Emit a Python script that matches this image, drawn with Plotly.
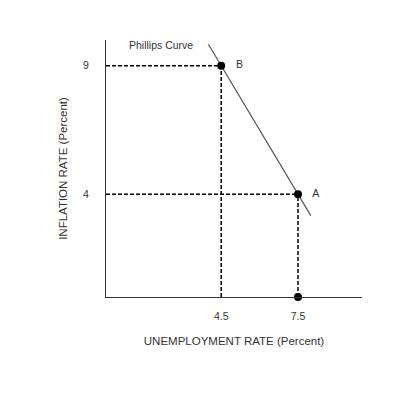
import plotly.graph_objects as go

# Data
point_names = ["B", "A"]
unemployment = [4.5, 7.5]
inflation = [9, 4]
curve_x = [4.0, 8.0]
curve_y = [9.8333, 3.1667]
x_ticks = [4.5, 7.5]
x_tick_labels = ["4.5", "7.5"]
y_ticks = [4, 9]
y_tick_labels = ["4", "9"]

FONT = "Liberation Sans, Arial, sans-serif"
TXT = "#333333"

fig = go.Figure()

# Dashed guide lines
for ux, iy in zip(unemployment, inflation):
    fig.add_trace(go.Scatter(x=[0, ux], y=[iy, iy], mode="lines",
                             line=dict(color="black", width=1.5, dash="4px,2px"),
                             showlegend=False, hoverinfo="skip"))
    fig.add_trace(go.Scatter(x=[ux, ux], y=[0, iy], mode="lines",
                             line=dict(color="black", width=1.5, dash="4px,2px"),
                             showlegend=False, hoverinfo="skip"))

# Phillips curve
fig.add_trace(go.Scatter(x=curve_x, y=curve_y, mode="lines",
                         line=dict(color="#555555", width=1.2),
                         showlegend=False))

# Points
fig.add_trace(go.Scatter(x=unemployment, y=inflation, mode="markers+text",
                         marker=dict(color="black", size=8),
                         text=["   " + n for n in point_names],
                         textposition="middle right",
                         textfont=dict(family=FONT, size=10.5, color=TXT),
                         showlegend=False))
fig.add_trace(go.Scatter(x=[unemployment[1]], y=[0], mode="markers",
                         marker=dict(color="black", size=8),
                         showlegend=False))

fig.add_annotation(x=2.15, y=9.82, text="Phillips Curve", showarrow=False,
                   font=dict(family=FONT, size=10.5, color=TXT))

fig.update_xaxes(range=[0, 10], tickvals=x_ticks, ticktext=x_tick_labels,
                 showgrid=False, zeroline=False, showline=True,
                 linecolor="#333333", linewidth=1.2, ticks="",
                 ticklabelstandoff=9,
                 tickfont=dict(family=FONT, size=10.5, color=TXT),
                 title=dict(text="UNEMPLOYMENT RATE (Percent)", standoff=16,
                            font=dict(family=FONT, size=11.5, color=TXT)))
fig.update_yaxes(range=[0, 10], tickvals=y_ticks, ticktext=y_tick_labels,
                 showgrid=False, zeroline=False, showline=True,
                 linecolor="#333333", linewidth=1.2, ticks="",
                 ticklabelstandoff=14,
                 tickfont=dict(family=FONT, size=10.5, color=TXT),
                 title=dict(text="INFLATION RATE (Percent)", standoff=12,
                            font=dict(family=FONT, size=11.5, color=TXT)))

fig.update_layout(width=400, height=400, plot_bgcolor="white", paper_bgcolor="white",
                  margin=dict(l=98, r=46, t=32, b=111), showlegend=False)
fig.update_traces(cliponaxis=False)

fig.write_html("out.html")
